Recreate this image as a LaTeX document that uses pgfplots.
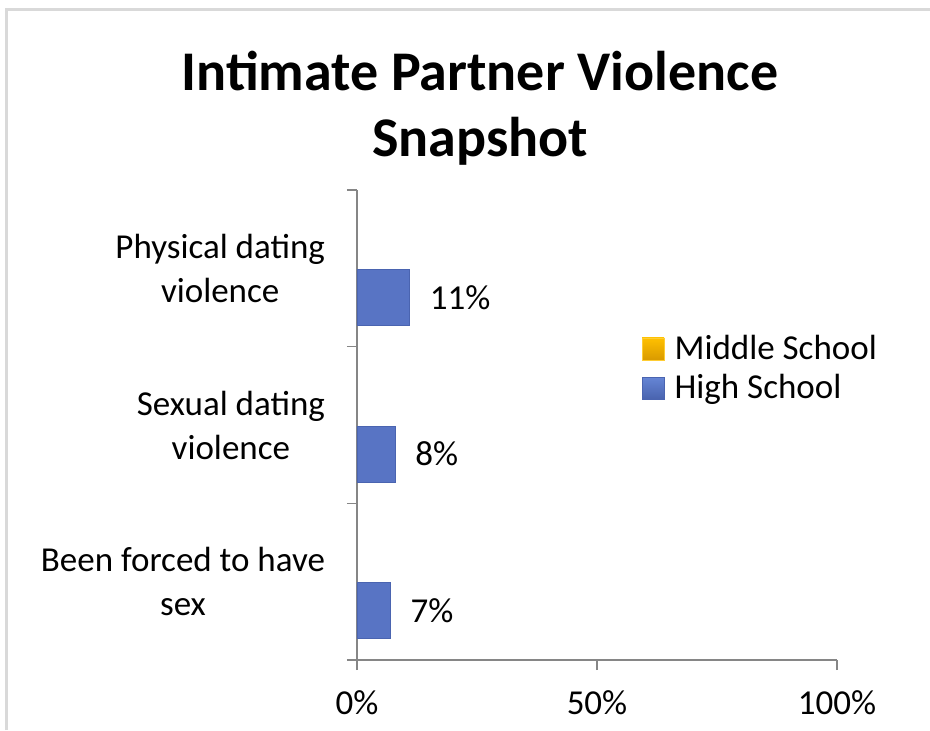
\documentclass[border=0pt]{standalone}
\usepackage{fontspec}
\setmainfont{Carlito}
\usepackage{pgfplots}
\pgfplotsset{compat=1.18}
\definecolor{axisgray}{HTML}{868686}
\definecolor{hsFill}{HTML}{5874C4}
\definecolor{hsEdge}{HTML}{4A64B0}
\definecolor{msTop}{HTML}{FFC000}
\definecolor{msBot}{HTML}{D99A00}
\definecolor{hsTop}{HTML}{6585D5}
\definecolor{hsBot}{HTML}{4963AE}
\begin{document}
\begin{tikzpicture}
\path[use as bounding box] (-178.5pt,-35pt) rectangle (286.5pt,330pt);
\draw[black!15, line width=1.5pt] (-175pt,-35pt) -- (-175pt,325pt) -- (286.5pt,325pt);
\node[font=\bfseries\fontsize{28}{33}\selectfont, align=center] at (61.5pt,276pt) {Intimate Partner Violence\\Snapshot};
\begin{axis}[
  at={(0,0)}, anchor=south west,
  scale only axis, width=240pt, height=235pt,
  xmin=0, xmax=100, ymin=-0.5, ymax=2.5,
  axis lines*=left,
  axis line style={axisgray, line width=0.8pt},
  tick align=outside,
  tick style={axisgray, line width=0.8pt},
  major tick length=5pt,
  minor tick length=5pt,
  xtick={0,50,100},
  xticklabel={\pgfmathprintnumber{\tick}\%},
  xticklabel style={font=\fontsize{17.5}{21}\selectfont, yshift=-7pt},
  ytick={0,1,2},
  yticklabels={{Been forced to have\\sex},{Sexual dating\\violence},{Physical dating\\violence}},
  yticklabel style={align=center, font=\fontsize{17.5}{22}\selectfont, xshift=-7.5pt},
  major y tick style={draw=none},
  minor ytick={-0.5,0.5,1.5,2.5},
  /pgf/number format/assume math mode=true,
  legend style={at={(0.58,0.62)}, anchor=west, draw=none, fill=none,
    font=\fontsize{17.5}{21}\selectfont, row sep=2pt,
    /tikz/every odd column/.append style={column sep=3pt}},
  legend cell align=left,
  clip=false,
]
\addlegendimage{legend image code/.code={\shade[top color=msTop,bottom color=msBot,draw=msTop!80!white] (0pt,-5.5pt) rectangle (11pt,5.5pt);}}
\addlegendentry{Middle School}
\addplot[xbar, bar width=28pt, bar shift=-14.5pt, draw=hsEdge, line width=0.4pt,
  fill=hsFill,
  nodes near coords={\pgfmathprintnumber{\pgfplotspointmeta}\%},
  nodes near coords align={horizontal},
  every node near coord/.append style={text=black, font=\fontsize{17.5}{21}\selectfont, xshift=6.5pt, yshift=-14.5pt},
  legend image code/.code={\shade[top color=hsTop,bottom color=hsBot] (0pt,-5.5pt) rectangle (11pt,5.5pt);}
] coordinates {(11,2) (8,1) (7,0)};
\addlegendentry{High School}
\end{axis}
\end{tikzpicture}
\end{document}
